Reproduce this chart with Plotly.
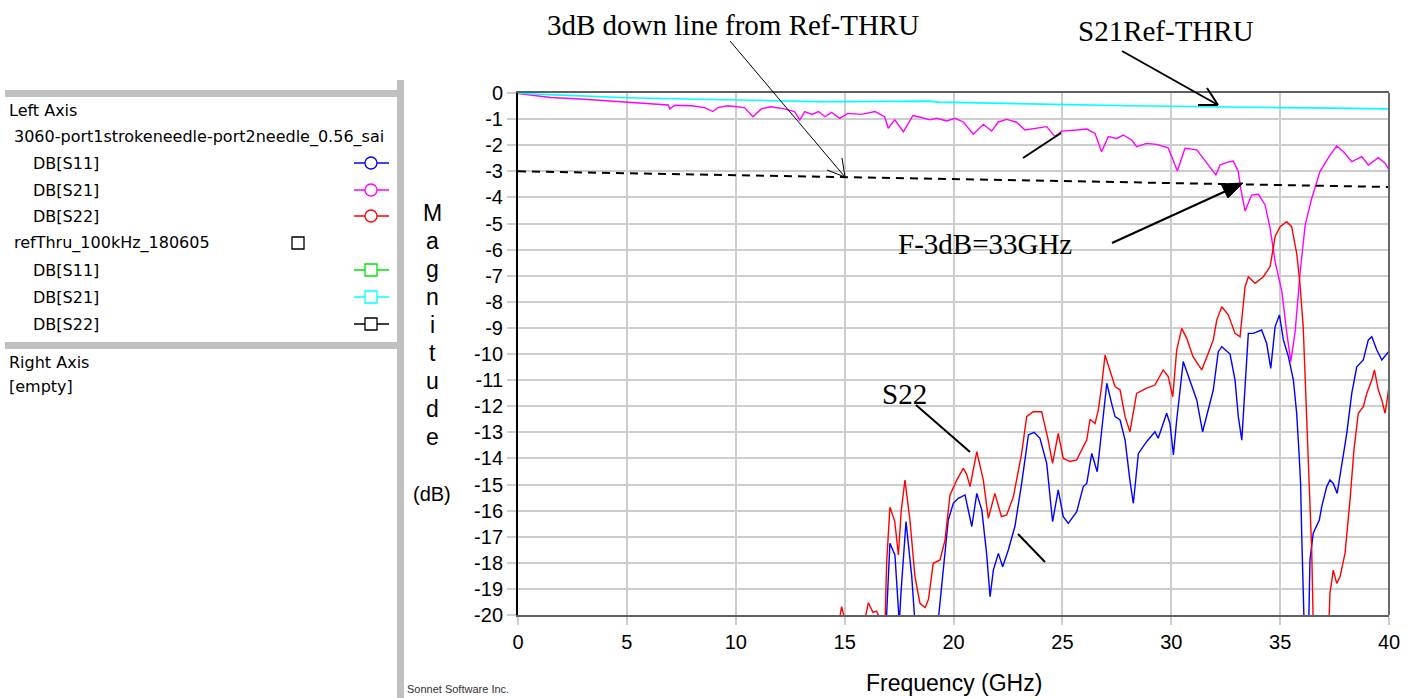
import plotly.graph_objects as go

# ---------------------------------------------------------------------------
# Measured S-parameters, 3060 probe set (dB vs GHz)
# ---------------------------------------------------------------------------
s21_freq = [0.0, 1.5, 3.05, 5.05, 6.1, 6.9, 6.97, 7.2, 7.96, 8.57, 8.95, 9.18, 9.64, 10.4,
            10.79, 11.17, 11.6, 12.25, 12.7, 12.94, 13.17, 13.5, 13.8, 14.1, 14.4, 14.77,
            15.15, 15.77, 16.4, 16.84, 17.0, 17.3, 17.7, 18.14, 18.52, 18.92, 19.23, 19.69,
            20.07, 20.45, 20.91, 21.37, 21.75, 22.06, 22.44, 22.9, 23.28, 23.82, 24.28,
            24.66, 24.97, 25.66, 26.12, 26.5, 26.8, 27.11, 27.49, 27.8, 28.18, 28.41,
            28.87, 29.33, 29.86, 30.28, 30.63, 31.17, 31.63, 32.05, 32.24, 32.55, 32.85,
            33.08, 33.19, 33.39, 33.69, 34.0, 34.31, 34.54, 34.77, 35.08, 35.3, 35.49,
            35.69, 35.92, 36.15, 36.45, 36.83, 37.29, 37.6, 37.91, 38.29, 38.75, 39.05,
            39.51, 39.82, 40.0]
s21_db = [-0.02, -0.17, -0.24, -0.36, -0.42, -0.46, -0.61, -0.47, -0.49, -0.56, -0.71, -0.56,
          -0.49, -0.56, -0.91, -0.61, -0.53, -0.61, -0.71, -1.03, -0.71, -0.82, -0.71, -0.91,
          -0.74, -0.97, -0.78, -0.82, -0.71, -0.91, -1.35, -1.03, -1.48, -0.86, -0.94,
          -1.03, -0.97, -1.07, -0.97, -1.11, -1.58, -1.2, -1.46, -1.11, -1.01, -1.12, -1.42,
          -1.35, -1.29, -1.67, -1.46, -1.42, -1.38, -1.55, -2.25, -1.67, -1.74, -1.61, -1.8,
          -2.06, -1.93, -1.97, -2.1, -2.99, -2.12, -2.18, -2.69, -3.14, -2.76, -2.66, -2.61,
          -3.01, -3.65, -4.52, -3.91, -3.88, -4.29, -5.18, -6.46, -7.61, -9.14, -10.29,
          -9.14, -6.85, -5.06, -4.04, -3.01, -2.38, -2.03, -2.25, -2.63, -2.44, -2.76, -2.48,
          -2.69, -2.95]

s22_freq = [0.0, 5.0, 10.0, 14.0, 14.6, 14.86, 15.1, 15.5, 15.9, 16.09, 16.3, 16.47, 16.6,
            16.85, 16.93, 17.08, 17.3, 17.47, 17.6, 17.77, 18.0, 18.23, 18.46, 18.7, 18.85,
            19.07, 19.38, 19.61, 19.84, 20.15, 20.45, 20.6, 20.76, 21.07, 21.37, 21.6, 21.9,
            22.2, 22.44, 22.75, 23.13, 23.36, 23.66, 24.05, 24.35, 24.55, 24.81, 25.04,
            25.35, 25.66, 25.96, 26.12, 26.27, 26.5, 26.65, 26.8, 26.96, 27.19, 27.42,
            27.65, 27.88, 28.1, 28.41, 28.87, 29.25, 29.63, 29.86, 30.07, 30.25, 30.48,
            30.71, 31.0, 31.4, 31.7, 31.93, 32.09, 32.32, 32.62, 32.93, 33.16, 33.39, 33.54,
            33.85, 34.23, 34.54, 34.77, 35.0, 35.3, 35.53, 35.76, 35.91, 36.06, 36.25, 36.37,
            36.45, 36.52, 36.6, 36.9, 37.15, 37.21, 37.29, 37.44, 37.6, 37.75, 37.98, 38.21,
            38.39, 38.59, 38.82, 38.98, 39.21, 39.33, 39.51, 39.67, 39.82, 39.98, 40.0]
s22_db = [-45.0, -40.0, -32.0, -23.0, -21.0, -19.68, -20.5, -23.0, -20.3, -19.53, -19.9,
          -19.85, -20.1, -20.5, -18.0, -15.87, -16.4, -17.7, -16.0, -14.83, -16.36, -18.53,
          -19.55, -19.72, -19.4, -18.02, -17.89, -17.13, -15.4, -14.83, -14.38, -14.6, -15.08,
          -13.74, -14.83, -16.3, -15.34, -16.23, -16.17, -15.47, -13.81, -12.4, -12.21,
          -12.21, -13.3, -14.19, -13.04, -14.0, -14.12, -14.06, -13.55, -13.3, -12.5, -12.66,
          -12.15, -11.25, -10.04, -10.61, -11.25, -11.38, -12.4, -12.98, -11.51, -11.31,
          -11.19, -10.61, -10.86, -11.64, -9.85, -9.02, -9.4, -10.1, -10.61, -9.97, -9.46,
          -8.7, -8.19, -8.5, -9.21, -9.34, -7.42, -7.04, -7.29, -7.04, -6.65, -5.5, -5.12,
          -4.93, -5.12, -6.14, -7.29, -8.95, -12.91, -15.59, -17.5, -20.3, -25.0, -28.0,
          -22.0, -20.3, -19.17, -18.28, -18.79, -18.54, -17.64, -15.59, -13.68, -12.27,
          -12.02, -11.51, -11.0, -10.61, -11.38, -11.76, -12.27, -11.38, -11.4]

s11_freq = [0.0, 10.0, 15.0, 16.5, 16.9, 17.08, 17.31, 17.51, 17.6, 17.82, 18.08, 18.23, 18.5,
            19.0, 19.3, 19.53, 19.76, 19.99, 20.22, 20.53, 20.84, 21.07, 21.3, 21.52, 21.68,
            21.83, 22.06, 22.26, 22.52, 22.82, 23.13, 23.44, 23.7, 23.97, 24.28, 24.55,
            24.81, 25.04, 25.27, 25.66, 25.96, 26.12, 26.35, 26.6, 26.8, 27.04, 27.26, 27.42,
            27.65, 27.88, 28.1, 28.26, 28.49, 28.87, 29.25, 29.4, 29.79, 29.94, 30.1, 30.25,
            30.55, 30.86, 31.17, 31.44, 31.7, 31.93, 32.16, 32.32, 32.7, 32.93, 33.08, 33.24,
            33.39, 33.54, 33.77, 34.15, 34.38, 34.57, 34.77, 34.97, 35.15, 35.38, 35.61,
            35.76, 35.87, 35.94, 35.99, 36.07, 36.14, 36.22, 36.3, 36.37, 36.52, 36.68, 36.8,
            36.91, 37.14, 37.29, 37.44, 37.62, 37.83, 38.06, 38.29, 38.52, 38.82, 39.05,
            39.21, 39.44, 39.67, 39.98]
s11_db = [-45.0, -38.0, -28.0, -23.0, -20.5, -17.25, -17.7, -20.3, -19.0, -16.42, -18.5,
          -20.3, -22.0, -21.0, -20.2, -18.15, -16.36, -15.72, -15.53, -15.4, -16.61, -15.34,
          -15.98, -17.64, -19.3, -18.28, -17.64, -18.15, -17.5, -16.61, -14.96, -13.1, -13.0,
          -13.23, -14.19, -16.42, -15.21, -16.23, -16.49, -16.04, -15.08, -14.96, -13.81,
          -14.51, -12.91, -11.12, -11.89, -12.4, -12.53, -13.3, -14.83, -15.72, -13.81,
          -13.36, -12.98, -13.23, -12.27, -12.66, -13.87, -12.53, -10.29, -11.06, -11.76,
          -12.98, -12.15, -11.38, -9.91, -9.72, -10.0, -11.0, -12.4, -13.3, -11.25, -9.21,
          -9.21, -9.08, -9.59, -10.55, -8.95, -8.51, -9.46, -10.1, -11.0, -12.27, -13.81,
          -14.96, -16.87, -18.91, -20.5, -24.0, -21.0, -17.89, -16.87, -16.61, -16.36,
          -15.85, -15.08, -14.83, -14.96, -15.34, -14.32, -13.04, -11.51, -10.49, -10.23,
          -9.46, -9.34, -9.85, -10.23, -9.91]

# Reference thru, S21
ref_freq = [0.0, 0.5, 2.0, 5.0, 8.3, 10.7, 13.8, 15.0, 18.9, 19.3, 21.0, 23.5, 25.0, 28.1,
            30.0, 32.2, 32.7, 35.0, 37.5, 40.0]
ref_db = [0.0, -0.03, -0.08, -0.18, -0.24, -0.29, -0.33, -0.33, -0.31, -0.35, -0.38, -0.43,
          -0.45, -0.49, -0.51, -0.54, -0.54, -0.56, -0.58, -0.61]

# 3 dB down line below the reference thru
down3_freq = [0.0, 40.0]
down3_db = [-3.0, -3.6]

x_ticks = [0, 5, 10, 15, 20, 25, 30, 35, 40]
y_ticks = list(range(0, -21, -1))
y_tick_text = [str(v) for v in y_ticks]

# ---------------------------------------------------------------------------
W, H = 1414, 698
L, R, T, B = 518, 1389, 93, 615


def px(x):
    return (x - L) / (R - L)


def py(y):
    return (B - y) / (B - T)


fig = go.Figure()

fig.add_trace(go.Scatter(x=s11_freq, y=s11_db, mode="lines", name="DB[S11]",
                         line=dict(color="#0000ff", width=1.4)))
fig.add_trace(go.Scatter(x=s21_freq, y=s21_db, mode="lines", name="DB[S21]",
                         line=dict(color="#ff00ff", width=1.4)))
fig.add_trace(go.Scatter(x=s22_freq, y=s22_db, mode="lines", name="DB[S22]",
                         line=dict(color="#ff0000", width=1.4)))
fig.add_trace(go.Scatter(x=ref_freq, y=ref_db, mode="lines", name="ref DB[S21]",
                         line=dict(color="#00ffff", width=1.6)))
fig.add_trace(go.Scatter(x=down3_freq, y=down3_db, mode="lines", name="-3dB",
                         line=dict(color="black", width=2, dash="8px,6px")))

shapes = []
annotations = []


def seg(x0, y0, x1, y1, color="black", width=2):
    shapes.append(dict(type="line", xref="paper", yref="paper",
                       x0=px(x0), y0=py(y0), x1=px(x1), y1=py(y1),
                       line=dict(color=color, width=width)))


def rect(x0, y0, x1, y1, fill=None, line_color=None, width=1):
    shapes.append(dict(type="rect", xref="paper", yref="paper",
                       x0=px(x0), y0=py(y0), x1=px(x1), y1=py(y1),
                       fillcolor=fill if fill else "rgba(0,0,0,0)",
                       line=dict(color=line_color if line_color else "rgba(0,0,0,0)",
                                 width=width if line_color else 0)))


def label(x, y, text, size, family, xanchor="left", color="black"):
    annotations.append(dict(xref="paper", yref="paper", x=px(x), y=py(y), text=text,
                            showarrow=False, xanchor=xanchor, yanchor="middle",
                            borderpad=0,
                            font=dict(size=size, family=family, color=color)))


# plot frame: right border
seg(R, T, R, B, color="#6a6a6a", width=2)

# ---- left legend panel ----
GRAY = "#c0c0c0"
rect(5, 90, 397, 97, fill=GRAY)
rect(5, 342, 397, 349, fill=GRAY)
rect(397, 80, 404, 700, fill=GRAY)

UI = "DejaVu Sans"
US = 16
label(8, 111, "Left Axis", US, UI)
label(13, 137, "3060-port1strokeneedle-port2needle_0.56_sai", US, UI)
label(32, 163, "DB[S11]", US, UI)
label(32, 190, "DB[S21]", US, UI)
label(32, 216, "DB[S22]", US, UI)
label(13, 243, "refThru_100kHz_180605", US, UI)
label(32, 270, "DB[S11]", US, UI)
label(32, 297, "DB[S21]", US, UI)
label(32, 324, "DB[S22]", US, UI)
label(8, 362, "Right Axis", US, UI)
label(8, 386, "[empty]", US, UI)

rect(292, 237, 304, 249, fill="white", line_color="black", width=1.3)
for yy, col in [(163, "#0000ff"), (190, "#ff00ff"), (216, "#ff0000")]:
    seg(354, yy, 389, yy, color=col, width=1.3)
    shapes.append(dict(type="circle", xref="paper", yref="paper",
                       x0=px(365), y0=py(yy - 6), x1=px(377), y1=py(yy + 6),
                       fillcolor="white", line=dict(color=col, width=1.3)))
for yy, col in [(270, "#00e000"), (297, "#00ffff"), (324, "black")]:
    seg(354, yy, 389, yy, color=col, width=1.3)
    rect(365, yy - 6, 377, yy + 6, fill="white", line_color=col, width=1.3)

# ---- axis titles ----
SANS = "Liberation Sans"
for i, ch in enumerate("Magnitude"):
    annotations.append(dict(xref="paper", yref="paper", x=px(432), y=py(213 + 28 * i),
                            text=ch, showarrow=False, xanchor="center", yanchor="middle",
                            font=dict(size=23, family=SANS, color="black")))
annotations.append(dict(xref="paper", yref="paper", x=px(432), y=py(494), text="(dB)",
                        showarrow=False, xanchor="center", yanchor="middle",
                        font=dict(size=20, family=SANS, color="black")))
annotations.append(dict(xref="paper", yref="paper", x=px(954), y=py(683),
                        text="Frequency (GHz)", showarrow=False, xanchor="center",
                        yanchor="middle", font=dict(size=23, family=SANS, color="black")))
label(406, 689, "Sonnet Software Inc.", 11, SANS, color="#333333")

# ---- callouts ----
SERIF = "Liberation Serif"
label(733, 25, "3dB down line from Ref-THRU", 29, SERIF, xanchor="center")
label(1166, 31, "S21Ref-THRU", 29, SERIF, xanchor="center")
label(985, 244, "F-3dB=33GHz", 29, SERIF, xanchor="center")
label(904, 394, "S22", 29, SERIF, xanchor="center")

# thin arrow to the 3 dB line
seg(730, 41, 845, 177, width=1)
seg(845, 177, 827, 170, width=1)
seg(845, 177, 842, 158, width=1)

# arrow to reference thru
seg(1122, 51, 1218, 105, width=2)
seg(1218, 105, 1207, 88, width=2)
seg(1218, 105, 1198, 105, width=2)

# arrow to the -3 dB crossing, filled head
seg(1112, 243, 1226, 191, width=2)
shapes.append(dict(type="path", xref="paper", yref="paper",
                   path="M {:.5f},{:.5f} L {:.5f},{:.5f} L {:.5f},{:.5f} Z".format(
                       px(1243), py(183), px(1228), py(198), px(1221), py(184)),
                   fillcolor="black", line=dict(color="black", width=1)))

# pointer lines
seg(1023, 158, 1061, 133, width=2)
seg(916, 405, 970, 452, width=2)
seg(1018, 534, 1045, 562, width=2)

fig.update_layout(
    width=W, height=H, autosize=False,
    margin=dict(l=L, r=W - R, t=T, b=H - B, pad=0),
    paper_bgcolor="white", plot_bgcolor="white",
    showlegend=False,
    shapes=shapes, annotations=annotations,
    xaxis=dict(range=[0, 40], tickvals=x_ticks, ticktext=[str(v) for v in x_ticks],
               showgrid=True, gridcolor="#cdcdcd", gridwidth=2, zeroline=False,
               showline=True, linecolor="#606060", linewidth=2, mirror=True,
               ticks="outside", ticklen=8, tickwidth=2, tickcolor="#cdcdcd",
               tickfont=dict(size=20, family=SANS, color="black"), fixedrange=True),
    yaxis=dict(range=[-20, 0], tickvals=y_ticks, ticktext=y_tick_text,
               showgrid=True, gridcolor="#cdcdcd", gridwidth=2, zeroline=False,
               showline=True, linecolor="black", linewidth=2,
               ticks="outside", ticklen=9, tickwidth=2, tickcolor="#cdcdcd",
               tickfont=dict(size=20, family=SANS, color="black"), fixedrange=True),
)

fig.write_html("out.html")
